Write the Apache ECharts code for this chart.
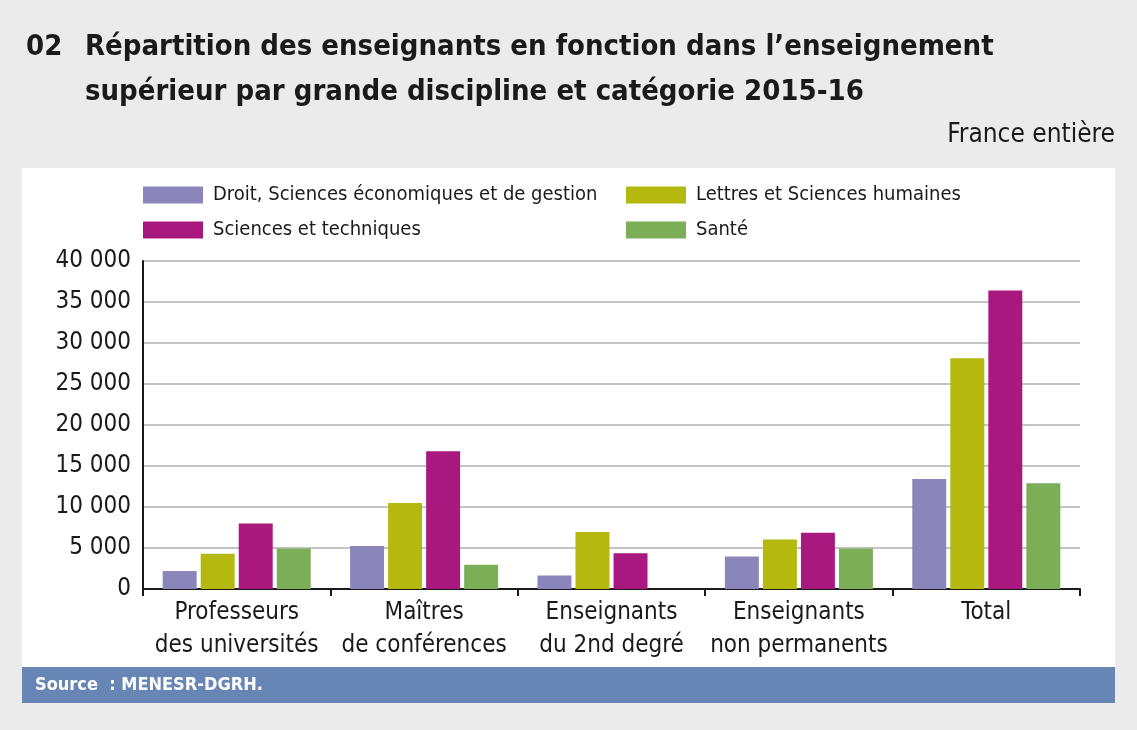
<!DOCTYPE html>
<html>
<head>
<meta charset="utf-8">
<script src="https://cdn.jsdelivr.net/npm/echarts@6/dist/echarts.min.js"></script>
<style>
  html, body { margin: 0; padding: 0; background: #ebebeb; }
  #chart { width: 1137px; height: 730px; }
</style>
</head>
<body>
<div id="chart"></div>
<script>
var chart = echarts.init(document.getElementById('chart'));

// catégories (axe x)
var categories = ['Professeurs\ndes universités', 'Maîtres\nde conférences', 'Enseignants\ndu 2nd degré', 'Enseignants\nnon permanents', 'Total'];
// valeurs par grande discipline
var droit = [2200, 5250, 1650, 3950, 13400];
var lettres = [4300, 10500, 6950, 6050, 28150];
var sciences = [8000, 16800, 4350, 6850, 36400];
var sante = [4950, 2950, null, 4950, 12900];
var seriesNames = ['Droit, Sciences économiques et de gestion', 'Lettres et Sciences humaines', 'Sciences et techniques', 'Santé'];
var colors = ['#8a85ba', '#b4b80f', '#a9187f', '#7bae57'];

var FONT = "'Liberation Sans Narrow', 'DejaVu Sans Condensed', 'Liberation Sans', sans-serif";

function fmt(v) {
    return String(v).replace(/\B(?=(\d{3})+(?!\d))/g, ' ');
}

// une légende par item pour les placer comme dans la figure
var legendPos = [[138, 180], [621, 180], [138, 215], [621, 215]];
var legends = seriesNames.map(function (n, i) {
    return {
        data: [n],
        left: legendPos[i][0],
        top: legendPos[i][1],
        itemWidth: 60,
        itemHeight: 17,
        icon: 'rect',
        selectedMode: false,
        textStyle: { fontFamily: FONT, fontSize: 20, color: '#1a1a1a', padding: [0, 0, 0, 5] }
    };
});

var datasets = [droit, lettres, sciences, sante];

var option = {
    backgroundColor: '#ebebeb',
    animation: false,
    color: colors,
    title: [{
        text: '02',
        left: 21, top: 20,
        textStyle: { fontFamily: FONT, fontSize: 29, fontWeight: 'bold', color: '#1a1a1a', lineHeight: 45 }
    }, {
        text: 'Répartition des enseignants en fonction dans l\u2019enseignement\nsupérieur par grande discipline et catégorie 2015-16',
        left: 80, top: 20,
        textStyle: { fontFamily: FONT, fontSize: 29, fontWeight: 'bold', color: '#1a1a1a', lineHeight: 45 }
    }, {
        text: 'France entière',
        right: 17, top: 117,
        textStyle: { fontFamily: FONT, fontSize: 26, fontWeight: 'normal', color: '#1a1a1a' }
    }],
    graphic: [{
        type: 'rect', z: -10,
        shape: { x: 22, y: 168, width: 1093, height: 499 },
        style: { fill: '#ffffff' }
    }, {
        type: 'rect', z: -10,
        shape: { x: 22, y: 667, width: 1093, height: 36 },
        style: { fill: '#6786b6' }
    }, {
        type: 'text', left: 35, top: 676,
        style: { text: 'Source  : MENESR-DGRH.', fill: '#ffffff', font: 'bold 18px ' + FONT }
    }],
    legend: legends,
    grid: { left: 143, right: 57, top: 261, bottom: 141 },
    xAxis: {
        type: 'category',
        data: categories,
        axisLine: { lineStyle: { color: '#1a1a1a', width: 2 } },
        axisTick: { show: true, length: 7, lineStyle: { color: '#1a1a1a', width: 2 } },
        axisLabel: { fontFamily: FONT, fontSize: 24, color: '#1a1a1a', lineHeight: 33, margin: 7, interval: 0 }
    },
    yAxis: {
        type: 'value',
        min: 0, max: 40000, interval: 5000,
        axisLine: { show: true, lineStyle: { color: '#1a1a1a', width: 2 } },
        axisTick: { show: false },
        splitLine: { lineStyle: { color: '#c4c4c4', width: 2 } },
        axisLabel: { fontFamily: FONT, fontSize: 24, color: '#1a1a1a', margin: 12, formatter: fmt }
    },
    series: datasets.map(function (d, i) {
        return {
            name: seriesNames[i],
            type: 'bar',
            data: d,
            barGap: '12%',
            barCategoryGap: '21%'
        };
    })
};
chart.setOption(option);
</script>
</body>
</html>
